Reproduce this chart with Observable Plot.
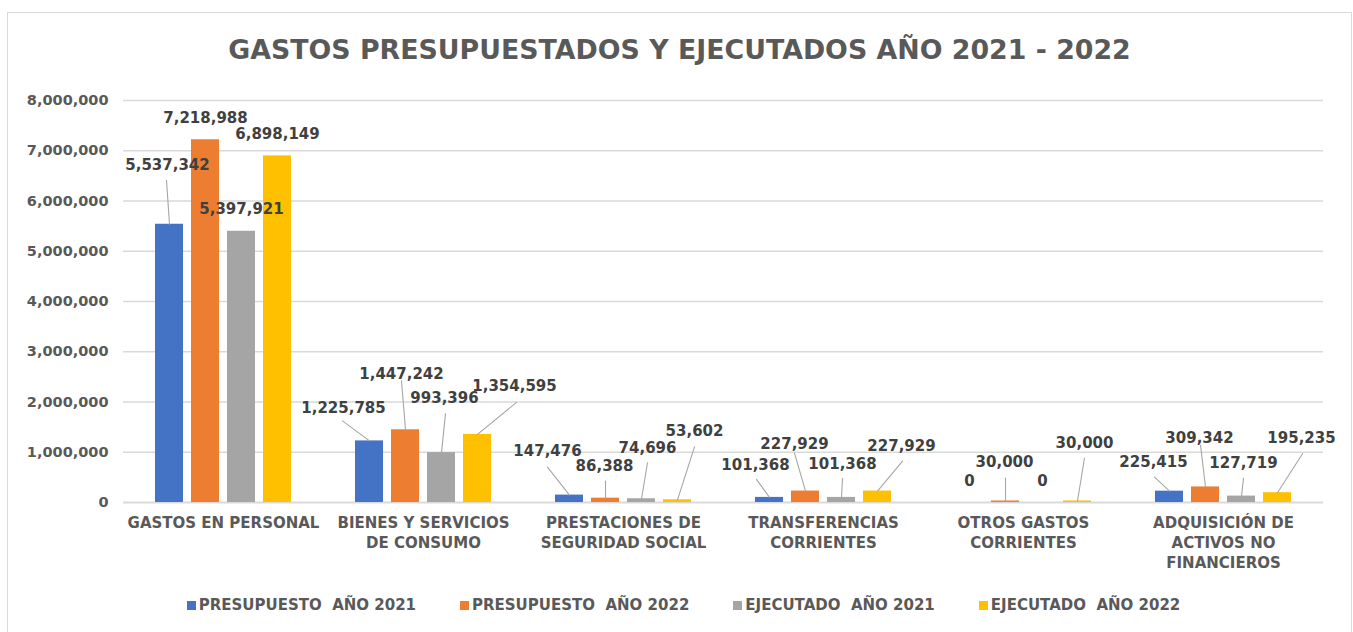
<!DOCTYPE html>
<html>
<head>
<meta charset="utf-8">
<script src="https://cdn.jsdelivr.net/npm/d3@7"></script>
<script src="https://cdn.jsdelivr.net/npm/@observablehq/plot@0.6"></script>
<style>
  html, body { margin: 0; padding: 0; background: #ffffff; }
  body { width: 1353px; height: 632px; overflow: hidden; position: relative; font-family: "DejaVu Sans", sans-serif; }
  #frame { position: absolute; left: 7px; top: 12px; width: 1343px; height: 640px; border: 1px solid #d9d9d9; }
  #title { position: absolute; left: 0; top: 22px; width: 100%; height: 30px; line-height: 30px; text-align: center;
           font-size: 26.8px; font-weight: bold; color: #595959; white-space: nowrap; }
  #chart { position: absolute; left: 0; top: 67px; }
  #chart svg { display: block; }
  #legend { position: absolute; left: 4px; top: 582px; width: 100%; height: 20px; display: flex; justify-content: center;
            align-items: center; gap: 44px; font-size: 15px; font-weight: bold; color: #595959; }
  .item { display: flex; align-items: center; white-space: pre; }
  .sw { width: 9px; height: 9px; margin-right: 3px; }
</style>
</head>
<body>
<div id="frame">
  <div id="title"></div>
  <div id="chart"></div>
  <div id="legend"></div>
</div>
<script>
// ---- data ----
const titleText = "GASTOS PRESUPUESTADOS Y EJECUTADOS AÑO 2021 - 2022";
const categories = [
  "GASTOS EN PERSONAL",
  "BIENES Y SERVICIOS DE CONSUMO",
  "PRESTACIONES DE SEGURIDAD SOCIAL",
  "TRANSFERENCIAS CORRIENTES",
  "OTROS GASTOS CORRIENTES",
  "ADQUISICIÓN DE ACTIVOS NO FINANCIEROS"
];
const categoryTickLabels = [
  "GASTOS EN PERSONAL",
  "BIENES Y SERVICIOS\nDE CONSUMO",
  "PRESTACIONES DE\nSEGURIDAD SOCIAL",
  "TRANSFERENCIAS\nCORRIENTES",
  "OTROS GASTOS\nCORRIENTES",
  "ADQUISICIÓN DE\nACTIVOS NO\nFINANCIEROS"
];
const series = ["PRESUPUESTO  AÑO 2021", "PRESUPUESTO  AÑO 2022", "EJECUTADO  AÑO 2021", "EJECUTADO  AÑO 2022"];
const presupuesto2021 = [5537342, 1225785, 147476, 101368, 0, 225415];
const presupuesto2022 = [7218988, 1447242, 86388, 227929, 30000, 309342];
const ejecutado2021   = [5397921, 993396, 74696, 101368, 0, 127719];
const ejecutado2022   = [6898149, 1354595, 53602, 227929, 30000, 195235];
const yTicks = [0, 1000000, 2000000, 3000000, 4000000, 5000000, 6000000, 7000000, 8000000];

// ---- styles / layout ----
const seriesColors = ["#4472C4", "#ED7D31", "#A5A5A5", "#FFC000"];
// per category, per series: [label dx, label dy, leader end dx, leader end dy] in pixels from bar top
const labelLayout = [
  [[-2, -59, -3, -44], [0, -22], [0, -22], [0, -22]],
  [[-26, -33, -27, -20], [-4, -56, -4, -49], [3, -54, 4, -39], [37, -48, 39, -32]],
  [[-22, -44, -22, -28], [-1, -32, 0, -17], [6, -51, 6, -36], [17, -69, 17, -53]],
  [[-14, -32, -13, -18], [-11, -47, -11, -38], [1, -33, 1, -19], [24, -45, 25, -30]],
  [[0, -21], [-1, -39, 0, -23], [1, -21], [7, -58, 7, -43]],
  [[-16, -29, -15, -14], [-6, -49, -5, -42], [2, -33, 2, -18], [24, -55, 25, -39]]
];

const valuesBySeries = [presupuesto2021, presupuesto2022, ejecutado2021, ejecutado2022];
const rows = [];
categories.forEach((c, i) => {
  series.forEach((s, j) => {
    rows.push({category: c, series: s, value: valuesBySeries[j][i], ci: i, si: j});
  });
});

const fmt = d3.format(",");
const FONT = "DejaVu Sans, sans-serif";
const leaderShape = {draw(context, l) { context.moveTo(0, 0); context.lineTo(0, -l); }};

const labelMarks = [];
const leaderMarks = [];
for (const r of rows) {
  const L = labelLayout[r.ci][r.si];
  labelMarks.push(Plot.text([r], {
    fx: "category", x: "series", y: "value",
    text: d => fmt(d.value),
    dx: L[0], dy: L[1],
    fill: "#404040", fontSize: 15, fontWeight: "bold", fontFamily: FONT,
    textAnchor: "middle", lineAnchor: "middle"
  }));
  if (L.length === 4) {
    const len = Math.hypot(L[2], L[3]);
    const rot = Math.atan2(L[2], -L[3]) * 180 / Math.PI;
    leaderMarks.push(Plot.vector([r], {
      fx: "category", x: "series", y: "value",
      length: len, rotate: rot, anchor: "start",
      shape: leaderShape, stroke: "#A6A6A6", strokeWidth: 1.1, fill: "none"
    }));
  }
}

const plot = Plot.plot({
  width: 1343,
  height: 500,
  marginLeft: 115,
  marginRight: 28,
  marginTop: 20,
  marginBottom: 78,
  style: {fontFamily: FONT, background: "transparent", overflow: "visible"},
  fx: {domain: categories, padding: 0, round: false, label: null},
  x: {domain: series, paddingInner: 8 / 36, paddingOuter: 0.8889, round: false, axis: null},
  y: {domain: [0, 8000000], label: null},
  color: {domain: series, range: seriesColors},
  marks: [
    Plot.gridY(yTicks.slice(1), {stroke: "#D9D9D9", strokeOpacity: 1, strokeWidth: 1.3}),
    Plot.ruleY([0], {stroke: "#D9D9D9", strokeWidth: 2}),
    Plot.axisY({ticks: yTicks, tickFormat: fmt, tickSize: 0, tickPadding: 15, fontSize: 14.5,
                fontWeight: "bold", color: "#595959", label: null}),
    Plot.axisFx({anchor: "bottom", tickSize: 0, tickPadding: 11,
                 tickFormat: d => categoryTickLabels[categories.indexOf(d)],
                 lineHeight: 1.333, fontSize: 15, fontWeight: "bold", color: "#595959", label: null}),
    Plot.barY(rows, {fx: "category", x: "series", y: "value", fill: "series"}),
    ...leaderMarks,
    ...labelMarks
  ]
});

document.getElementById("chart").appendChild(plot);
document.getElementById("title").textContent = titleText;

const legend = document.getElementById("legend");
series.forEach((s, i) => {
  const item = document.createElement("div");
  item.className = "item";
  const sw = document.createElement("span");
  sw.className = "sw";
  sw.style.background = seriesColors[i];
  const t = document.createElement("span");
  t.textContent = s;
  item.appendChild(sw);
  item.appendChild(t);
  legend.appendChild(item);
});
</script>
</body>
</html>
